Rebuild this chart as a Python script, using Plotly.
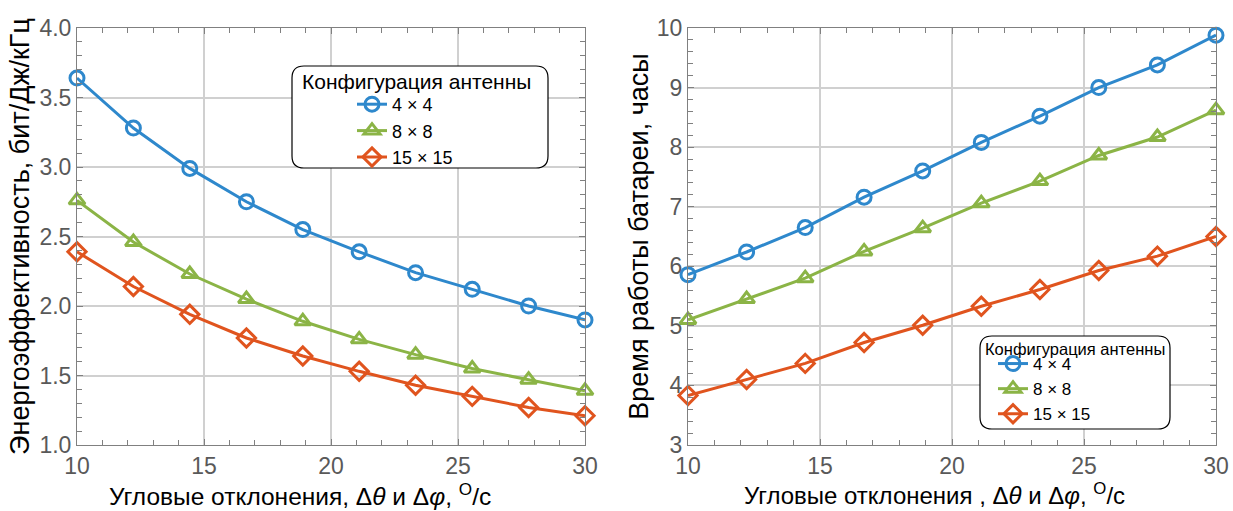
import plotly.graph_objects as go

angles = [10, 12.22, 14.44, 16.67, 18.89, 21.11, 23.33, 25.56, 27.78, 30]
series_names = ["4 × 4", "8 × 8", "15 × 15"]
legend_title = "Конфигурация антенны"

eff_4x4 = [3.64, 3.28, 2.99, 2.75, 2.55, 2.39, 2.24, 2.12, 2.00, 1.90]
eff_8x8 = [2.76, 2.46, 2.23, 2.05, 1.89, 1.76, 1.65, 1.55, 1.47, 1.39]
eff_15x15 = [2.39, 2.14, 1.94, 1.77, 1.64, 1.53, 1.43, 1.35, 1.27, 1.21]

bat_4x4 = [5.86, 6.24, 6.65, 7.16, 7.60, 8.08, 8.52, 9.00, 9.38, 9.88]
bat_8x8 = [5.10, 5.45, 5.80, 6.25, 6.64, 7.06, 7.43, 7.86, 8.17, 8.62]
bat_15x15 = [3.83, 4.10, 4.37, 4.72, 5.01, 5.33, 5.61, 5.93, 6.17, 6.50]

colors = ["#2E88CC", "#8BB446", "#E0541E"]
symbols = ["circle-open", "triangle-up-open", "diamond-open"]
font = "Arial, Liberation Sans, sans-serif"

# figure geometry (pixels)
W, H = 1233, 511
ML, MR, MT, MB = 77, 17, 28, 66


def px(x):
    return (x - ML) / (W - ML - MR)


def py(y):
    return 1 - (y - MT) / (H - MT - MB)


fig = go.Figure()

left = [eff_4x4, eff_8x8, eff_15x15]
right = [bat_4x4, bat_8x8, bat_15x15]
for i in range(3):
    fig.add_trace(go.Scatter(
        x=angles, y=left[i], name=series_names[i], mode="lines+markers",
        line=dict(color=colors[i], width=3),
        marker=dict(symbol=symbols[i], size=14, color=colors[i],
                    line=dict(width=3, color=colors[i])),
        xaxis="x", yaxis="y", legend="legend", cliponaxis=False))
for i in range(3):
    fig.add_trace(go.Scatter(
        x=angles, y=right[i], name=series_names[i], mode="lines+markers",
        line=dict(color=colors[i], width=3),
        marker=dict(symbol=symbols[i], size=14, color=colors[i],
                    line=dict(width=3, color=colors[i])),
        xaxis="x2", yaxis="y2", legend="legend2", cliponaxis=False))

axis_common = dict(
    showline=True, linecolor="#808080", linewidth=1, mirror="allticks",
    ticks="inside", ticklen=6, tickcolor="#808080",
    showgrid=True, gridcolor="#d0d0d0", gridwidth=1.5, zeroline=False,
    automargin=False,
    tickfont=dict(family=font, size=23, color="#595959"),
)
minor_common = dict(ticks="inside", ticklen=5, tickcolor="#808080", showgrid=False)

fig.update_layout(
    width=W, height=H,
    margin=dict(l=ML, r=MR, t=MT, b=MB),
    plot_bgcolor="white", paper_bgcolor="white",
    showlegend=True,
    xaxis=dict(axis_common, domain=[0, px(585)], range=[10, 30], dtick=5,
               minor=dict(minor_common, dtick=1), anchor="y"),
    yaxis=dict(axis_common, domain=[0, 1], range=[1.0, 4.0], dtick=0.5,
               tickformat=".1f", anchor="x",
               minor=dict(minor_common, dtick=0.1),
               title=dict(text="Энергоэффективность, бит/Дж/кГц",
                          font=dict(family=font, size=27, color="black"), standoff=1)),
    xaxis2=dict(axis_common, domain=[px(688), 1], range=[10, 30], dtick=5,
                minor=dict(minor_common, dtick=1), anchor="y2"),
    yaxis2=dict(axis_common, domain=[0, 1], range=[3, 10], dtick=1, anchor="x2",
                minor=dict(minor_common, dtick=0.2),
                title=dict(text="Время работы батареи, часы",
                           font=dict(family=font, size=27, color="black"), standoff=0)),
    legend=dict(x=px(352), y=py(86), xanchor="left", yanchor="top",
                bgcolor="rgba(0,0,0,0)", borderwidth=0,
                font=dict(family=font, size=18, color="black"),
                tracegroupgap=0, itemwidth=30),
    legend2=dict(x=px(993), y=py(346), xanchor="left", yanchor="top",
                 bgcolor="rgba(0,0,0,0)", borderwidth=0,
                 font=dict(family=font, size=17, color="black"),
                 tracegroupgap=0, itemwidth=30),
)

# x axis titles (placed as annotations: the originals sit left of the plot centre)
fig.add_annotation(text="Угловые отклонения, Δ<i>θ</i> и Δ<i>φ</i>, <sup>O</sup>/c",
                   xref="paper", yref="paper", x=px(300), y=py(494),
                   showarrow=False, xanchor="center", yanchor="middle",
                   font=dict(family=font, size=24.5, color="black"))
fig.add_annotation(text="Угловые отклонения , Δ<i>θ</i> и Δ<i>φ</i>, <sup>O</sup>/c",
                   xref="paper", yref="paper", x=px(934), y=py(494),
                   showarrow=False, xanchor="center", yanchor="middle",
                   font=dict(family=font, size=24, color="black"))


def rounded_box(x0, y0, x1, y1, r):
    return (f"M {px(x0 + r)} {py(y0)} L {px(x1 - r)} {py(y0)} "
            f"Q {px(x1)} {py(y0)} {px(x1)} {py(y0 + r)} "
            f"L {px(x1)} {py(y1 - r)} Q {px(x1)} {py(y1)} {px(x1 - r)} {py(y1)} "
            f"L {px(x0 + r)} {py(y1)} Q {px(x0)} {py(y1)} {px(x0)} {py(y1 - r)} "
            f"L {px(x0)} {py(y0 + r)} Q {px(x0)} {py(y0)} {px(x0 + r)} {py(y0)} Z")


fig.add_shape(type="path", xref="paper", yref="paper", path=rounded_box(292, 66, 548, 168, 12),
              fillcolor="white", line=dict(color="black", width=1.2), layer="above")
fig.add_shape(type="path", xref="paper", yref="paper", path=rounded_box(980, 336, 1170, 429, 12),
              fillcolor="white", line=dict(color="black", width=1.2), layer="above")

fig.add_annotation(text=legend_title, xref="paper", yref="paper", x=px(416), y=py(81),
                   showarrow=False, xanchor="center", yanchor="middle",
                   font=dict(family=font, size=21, color="black"))
fig.add_annotation(text=legend_title, xref="paper", yref="paper", x=px(1075), y=py(349),
                   showarrow=False, xanchor="center", yanchor="middle",
                   font=dict(family=font, size=16.5, color="black"))

# drop the default 8px page margin so the figure sits at the window origin
fig.write_html("out.html", config={"displayModeBar": False},
               post_script="document.body.style.margin='0';")
